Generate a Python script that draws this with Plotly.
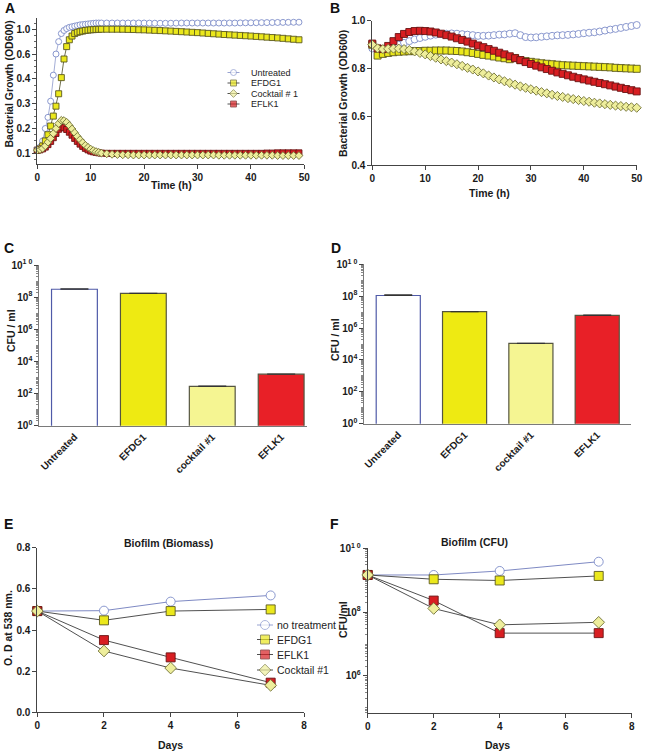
import numpy as np
import plotly.graph_objects as go

# ---------------- data ----------------
# Panel A: growth curves (OD600) in untreated / phage treated planktonic cultures
time_a = [0, 0.5, 1, 1.5, 2, 2.5, 3, 3.5, 4, 4.5, 5, 5.5, 6, 6.5, 7, 7.5, 8, 8.5, 9, 9.5,
          10, 10.5, 11, 11.5, 12, 13, 14, 15, 16, 17, 18, 19, 20, 21, 22, 23, 24, 25, 26,
          27, 28, 29, 30, 31, 32, 33, 34, 35, 36, 37, 38, 39, 40, 41, 42, 43, 44, 45, 46,
          47, 48, 49]
a_untreated = [0.113, 0.125, 0.15, 0.2, 0.245, 0.31, 0.43, 0.6, 0.8, 0.93, 0.98, 1.01, 1.03,
               1.04, 1.05, 1.06, 1.07, 1.075, 1.08, 1.085, 1.09, 1.095, 1.1, 1.1, 1.1,
               1.1, 1.1, 1.1, 1.1, 1.1, 1.1, 1.1, 1.1, 1.098, 1.097, 1.096, 1.096, 1.097, 1.098,
               1.1, 1.1, 1.1, 1.1, 1.1, 1.1, 1.1, 1.1, 1.1, 1.1, 1.1,
               1.102, 1.103, 1.104, 1.105, 1.106, 1.107, 1.108, 1.109, 1.11, 1.111, 1.112, 1.113]
a_efdg1 = [0.112, 0.118, 0.13, 0.15, 0.175, 0.21, 0.25, 0.29, 0.34, 0.41, 0.56, 0.72, 0.83,
           0.89, 0.93, 0.95, 0.96, 0.97, 0.98, 0.985, 0.99, 0.993, 0.996, 0.998, 1.0,
           1.0, 1.0, 1.0, 0.999, 0.997, 0.995, 0.992, 0.99, 0.986, 0.982, 0.978, 0.974, 0.97,
           0.965, 0.96, 0.955, 0.95, 0.945, 0.939, 0.933, 0.927, 0.921, 0.915, 0.91, 0.905,
           0.9, 0.895, 0.89, 0.884, 0.878, 0.872, 0.866, 0.86, 0.853, 0.845, 0.838, 0.83]
a_cocktail = [0.113, 0.115, 0.12, 0.13, 0.145, 0.16, 0.18, 0.2, 0.22, 0.233, 0.232, 0.225,
              0.212, 0.198, 0.183, 0.168, 0.155, 0.143, 0.132, 0.124, 0.117, 0.111, 0.107,
              0.104, 0.101,
              0.098, 0.096, 0.095, 0.094, 0.094, 0.093, 0.093, 0.093, 0.093, 0.093, 0.093,
              0.093, 0.093, 0.093, 0.093, 0.093, 0.093, 0.093, 0.093, 0.093, 0.093, 0.092,
              0.092, 0.092, 0.092, 0.092, 0.092, 0.092, 0.092, 0.092, 0.092, 0.092, 0.091,
              0.091, 0.091, 0.091, 0.091]
a_eflk1 = [0.113, 0.114, 0.118, 0.125, 0.135, 0.148, 0.163, 0.18, 0.197, 0.206, 0.203, 0.196,
           0.185, 0.173, 0.16, 0.148, 0.137, 0.128, 0.12, 0.114, 0.109, 0.106, 0.104, 0.102,
           0.101,
           0.1, 0.1, 0.1, 0.1, 0.1, 0.1, 0.1, 0.1, 0.1, 0.1, 0.1, 0.1, 0.1, 0.1, 0.1, 0.1,
           0.1, 0.1, 0.1, 0.1, 0.1, 0.1, 0.1, 0.1, 0.1, 0.1, 0.1, 0.1, 0.1, 0.1,
           0.101, 0.101, 0.102, 0.102, 0.102, 0.102, 0.102]
# the OD axis of panel A has evenly spaced, non-linear labels
a_ticks = [0.1, 0.2, 0.3, 0.4, 0.6, 1.0]

# Panel B: OD600 of a pre-formed culture after treatment
time_b = [0, 1, 2, 3, 4, 5, 6, 7, 8, 9, 10, 11, 12, 13, 14, 15, 16, 17, 18, 19, 20, 21, 22,
          23, 24, 25, 26, 27, 28, 29, 30, 31, 32, 33, 34, 35, 36, 37, 38, 39, 40, 41, 42, 43,
          44, 45, 46, 47, 48, 49, 50]
b_untreated = [0.885, 0.882, 0.882, 0.885, 0.89, 0.9, 0.908, 0.915, 0.922, 0.928,
               0.933, 0.938, 0.942, 0.944, 0.946, 0.947, 0.946, 0.944, 0.942, 0.94,
               0.937, 0.937, 0.938, 0.94, 0.942, 0.943, 0.946, 0.948, 0.94, 0.932,
               0.93, 0.931, 0.933, 0.935, 0.937, 0.939, 0.94, 0.941, 0.943, 0.945,
               0.948, 0.95, 0.952, 0.955, 0.959, 0.963, 0.966, 0.97, 0.974, 0.978, 0.982]
b_efdg1 = [0.9, 0.855, 0.862, 0.866, 0.869, 0.871, 0.872, 0.873, 0.874, 0.874,
           0.875, 0.875, 0.876, 0.876, 0.876, 0.875, 0.874, 0.872, 0.869, 0.866,
           0.862, 0.858, 0.855, 0.851, 0.847, 0.844, 0.84, 0.845, 0.836, 0.832,
           0.829, 0.826, 0.823, 0.821, 0.819, 0.817, 0.815, 0.814, 0.813, 0.812,
           0.811, 0.81, 0.809, 0.808, 0.807, 0.806, 0.804, 0.803, 0.802, 0.801, 0.8]
b_eflk1 = [0.905, 0.885, 0.882, 0.895, 0.915, 0.932, 0.945, 0.953, 0.957, 0.958,
           0.957, 0.955, 0.951, 0.946, 0.94, 0.934, 0.927, 0.92, 0.913, 0.905,
           0.897, 0.89, 0.882, 0.875, 0.867, 0.86, 0.852, 0.844, 0.836, 0.828,
           0.82, 0.813, 0.806, 0.799, 0.792, 0.785, 0.779, 0.773, 0.767, 0.761,
           0.756, 0.751, 0.746, 0.741, 0.736, 0.731, 0.726, 0.721, 0.716, 0.711, 0.706]
b_cocktail = [0.9, 0.885, 0.882, 0.883, 0.884, 0.884, 0.882, 0.878, 0.872, 0.866,
              0.86, 0.853, 0.846, 0.839, 0.832, 0.826, 0.819, 0.812, 0.804, 0.797,
              0.789, 0.781, 0.772, 0.764, 0.756, 0.748, 0.741, 0.734, 0.727, 0.721,
              0.715, 0.709, 0.703, 0.698, 0.692, 0.687, 0.683, 0.678, 0.674, 0.67,
              0.666, 0.663, 0.659, 0.656, 0.653, 0.65, 0.647, 0.645, 0.642, 0.64, 0.638]

# Panels C / D: viable counts
cfu_labels = ["Untreated", "EFDG1", "cocktail #1", "EFLK1"]
cfu_c = [3.1e8, 1.7e8, 2.8e2, 1.6e3]
cfu_c_err = [2.0e7, 0, 1.5e1, 0]
cfu_d = [1.1e8, 1.07e7, 1.1e5, 6.3e6]
cfu_d_err = [1.0e7, 0, 0, 2.0e5]
log_ticks = [1, 1e2, 1e4, 1e6, 1e8, 1e10]
log_text = ["10<sup>0</sup>", "10<sup>2</sup>", "10<sup>4</sup>", "10<sup>6</sup>",
            "10<sup>8</sup>", "10<sup>1 0</sup>"]

# Panels E / F: biofilm
days = [0, 2, 4, 7]
e_none = [0.492, 0.494, 0.538, 0.568]
e_efdg1 = [0.492, 0.447, 0.492, 0.5]
e_eflk1 = [0.492, 0.351, 0.267, 0.144]
e_cocktail = [0.492, 0.298, 0.215, 0.131]
f_none = [1.46e9, 1.46e9, 1.95e9, 3.8e9]
f_efdg1 = [1.46e9, 1.07e9, 0.98e9, 1.36e9]
f_eflk1 = [1.46e9, 2.3e8, 2.2e7, 2.2e7]
f_cocktail = [1.46e9, 1.3e8, 4.0e7, 4.8e7]

# ---------------- styles ----------------
FONT = "Liberation Sans, Arial, Helvetica, sans-serif"
W, H = 647, 755

STY = {
    "untreated": dict(symbol="circle", color="white", edge="#7d8cc8", line="#8c98cc"),
    "efdg1": dict(symbol="square", color="#ebe81c", edge="#5a5820", line="#4a4a20"),
    "cocktail": dict(symbol="diamond", color="#eeee9c", edge="#707035", line="#555530"),
    "eflk1": dict(symbol="square", color="#d81e22", edge="#6a1414", line="#5a1010"),
}


def a_scale(v):
    # piecewise map of panel A values onto the evenly spaced tick positions
    return np.interp(v, [0.0] + a_ticks + [1.4], [-1, 0, 1, 2, 3, 4, 5, 6])


def line_trace(x, y, key, xa, ya, size, lw=0.8, line_color=None):
    s = STY[key]
    return go.Scatter(
        x=x, y=y, mode="lines+markers", xaxis=xa, yaxis=ya, cliponaxis=False,
        showlegend=False, hoverinfo="skip",
        line=dict(color=line_color or s["line"], width=lw),
        marker=dict(symbol=s["symbol"], size=size, color=s["color"],
                    line=dict(color=s["edge"], width=0.9)),
    )


def ax(**kw):
    base = dict(showline=True, linecolor="#444", linewidth=1, ticks="outside", ticklen=4,
                tickcolor="#444", showgrid=False, zeroline=False, automargin=False,
                tickfont=dict(family=FONT, size=10, color="#1a1a1a", weight="bold"))
    base.update(kw)
    return base


def dom_x(l, r):
    return [l / W, r / W]


def dom_y(t, b):
    return [1 - b / H, 1 - t / H]


fig = go.Figure()

# Panel A
for key, vals in [("untreated", a_untreated), ("efdg1", a_efdg1),
                  ("eflk1", a_eflk1), ("cocktail", a_cocktail)]:
    fig.add_trace(line_trace(time_a, a_scale(vals), key, "x", "y", 6))

# Panel B
for key, vals in [("untreated", b_untreated), ("efdg1", b_efdg1),
                  ("eflk1", b_eflk1), ("cocktail", b_cocktail)]:
    fig.add_trace(line_trace(time_b, vals, key, "x2", "y2", 7))

# Panels C / D
bar_fill = ["white", "#eeea12", "#f5f592", "#e82027"]
bar_edge = ["#4f5aa8", "#555540", "#555540", "#555540"]
for vals, err, xa, ya in [(cfu_c, cfu_c_err, "x3", "y3"), (cfu_d, cfu_d_err, "x4", "y4")]:
    fig.add_trace(go.Bar(
        x=cfu_labels, y=vals, xaxis=xa, yaxis=ya, width=0.665, showlegend=False,
        hoverinfo="skip",
        marker=dict(color=bar_fill, line=dict(color=bar_edge, width=1.2)),
        error_y=dict(type="data", array=err, symmetric=False, arrayminus=[0] * 4,
                     color="#333", thickness=1.2, width=14),
    ))

# Panels E / F
for key, ve, vf in [("untreated", e_none, f_none), ("efdg1", e_efdg1, f_efdg1),
                    ("eflk1", e_eflk1, f_eflk1), ("cocktail", e_cocktail, f_cocktail)]:
    lc = "#6f7cbc" if key == "untreated" else "#3c3c3c"
    fig.add_trace(line_trace(days, ve, key, "x5", "y5", 9, lw=0.9, line_color=lc))
    fig.add_trace(line_trace(days, vf, key, "x6", "y6", 9, lw=0.9, line_color=lc))

# hand-built legends (compact spacing as in the original), drawn on a pixel-space overlay
legend_a = [("Untreated", "untreated", 72.5), ("EFDG1", "efdg1", 83),
            ("Cocktail # 1", "cocktail", 93.5), ("EFLK1", "eflk1", 104)]
legend_e = [("no treatment", "untreated", 625), ("EFDG1", "efdg1", 639.5),
            ("EFLK1", "eflk1", 654.5), ("Cocktail #1", "cocktail", 670)]
for entries, xc, half, msize, fsize, tx in [(legend_a, 233.5, 6, 6, 9, 248.5),
                                             (legend_e, 265, 8, 9, 10.5, 275)]:
    for text, key, yc in entries:
        s = STY[key]
        lc = s["line"] if key == "untreated" else "#3c3c3c"
        fig.add_trace(go.Scatter(
            x=[xc - half, xc, xc + half], y=[yc, yc, yc], xaxis="x7", yaxis="y7",
            mode="lines+markers", showlegend=False, hoverinfo="skip", cliponaxis=False,
            line=dict(color=lc, width=0.9),
            marker=dict(symbol=s["symbol"], size=[0, msize, 0], color=s["color"],
                        line=dict(color=s["edge"], width=0.9)),
        ))
        fig.add_annotation(text=text, x=tx, y=yc, xref="x7", yref="y7", xanchor="left",
                           yanchor="middle", showarrow=False,
                           font=dict(family=FONT, size=fsize, color="#222"))

fig.update_layout(
    width=W, height=H, template="none",
    margin=dict(l=0, r=0, t=0, b=0),
    paper_bgcolor="white", plot_bgcolor="rgba(0,0,0,0)",
    font=dict(family=FONT, color="#1a1a1a"),
    showlegend=False, hovermode=False,
    # A
    xaxis=ax(domain=dom_x(37.3, 304.3), anchor="y", range=[0, 50], tickvals=[0, 10, 20, 30, 40, 50]),
    yaxis=ax(domain=dom_y(18.3, 164), anchor="x", range=[-0.43, 5.44],
             tickmode="array", tickvals=[0, 1, 2, 3, 4, 5], ticktext=[f"{v:.1f}" for v in a_ticks],
             minor=dict(ticks="outside", ticklen=2, dtick=0.25, tickcolor="#666")),
    # B
    xaxis2=ax(domain=dom_x(372.3, 636.7), anchor="y2", range=[0, 50], tickvals=[0, 10, 20, 30, 40, 50]),
    yaxis2=ax(domain=dom_y(20.7, 165), anchor="x2", range=[0.4, 1.0],
              tickvals=[0.4, 0.6, 0.8, 1.0], tickformat=".1f"),
    # C
    xaxis3=ax(domain=dom_x(39.3, 307), anchor="y3", range=[-0.51, 3.375], ticks="",
              linecolor="#7a7a7a", linewidth=1.5, tickangle=-45),
    yaxis3=ax(domain=dom_y(265, 425.7), anchor="x3", type="log", range=[0, 10],
              tickvals=log_ticks, ticktext=log_text, linecolor="#7a7a7a",
              minor=dict(ticks="outside", ticklen=2, dtick="D1", tickcolor="#888")),
    # D
    xaxis4=ax(domain=dom_x(364.3, 630.7), anchor="y4", range=[-0.512, 3.505], ticks="",
              linecolor="#7a7a7a", linewidth=1.5, tickangle=-45),
    yaxis4=ax(domain=dom_y(264.3, 423.7), anchor="x4", type="log", range=[0, 10],
              tickvals=log_ticks, ticktext=log_text, linecolor="#7a7a7a",
              minor=dict(ticks="outside", ticklen=2, dtick="D1", tickcolor="#888")),
    # E
    xaxis5=ax(domain=dom_x(37.3, 304), anchor="y5", range=[0, 8], dtick=2),
    yaxis5=ax(domain=dom_y(547.7, 712.3), anchor="x5", range=[0, 0.8], dtick=0.2, tickformat=".1f"),
    # F
    xaxis6=ax(domain=dom_x(367.7, 631.7), anchor="y6", range=[0, 8], dtick=2),
    yaxis6=ax(domain=dom_y(548.3, 713.3), anchor="x6", type="log", range=[4.83, 10],
              tickvals=log_ticks[3:], ticktext=log_text[3:],
              minor=dict(ticks="outside", ticklen=2, dtick="D1", tickcolor="#888")),
    # pixel-space overlay for the legends
    xaxis7=dict(domain=[0, 1], range=[0, W], visible=False, fixedrange=True, anchor="y7"),
    yaxis7=dict(domain=[0, 1], range=[H, 0], visible=False, fixedrange=True, anchor="x7"),
)


# panel letters, panel titles and axis titles (positions in pixels of the figure)
def label(txt, x, y, size, angle=0, color="#1a1a1a"):
    fig.add_annotation(text=f"<b>{txt}</b>", x=x / W, y=1 - y / H, xref="paper", yref="paper",
                       xanchor="center", yanchor="middle", showarrow=False, textangle=angle,
                       font=dict(family=FONT, size=size, color=color))


for txt, x, y in [("A", 10, 8), ("B", 335, 8), ("C", 9, 248), ("D", 336, 248),
                  ("E", 8, 524), ("F", 334, 524)]:
    label(txt, x, y, 14, color="#111")
label("Biofilm (Biomass)", 168, 543, 10.5)
label("Biofilm (CFU)", 474, 542, 10.5)

for txt, x, y in [("Time (h)", 171, 185), ("Time (h)", 489, 193),
                  ("Days", 170, 745), ("Days", 497, 745)]:
    label(txt, x, y, 10.5)
for txt, x, y in [("Bacterial Growth (OD600)", 8.5, 84), ("Bacterial Growth (OD600)", 343, 94),
                  ("CFU / ml", 11, 331), ("CFU / ml", 335, 340),
                  ("O. D at 538 nm.", 8, 628), ("CFU/ml", 343, 620)]:
    label(txt, x, y, 10.5, angle=-90)

fig.write_html("out.html", post_script="document.body.style.margin='0';",
               config={"displayModeBar": False, "staticPlot": True})
